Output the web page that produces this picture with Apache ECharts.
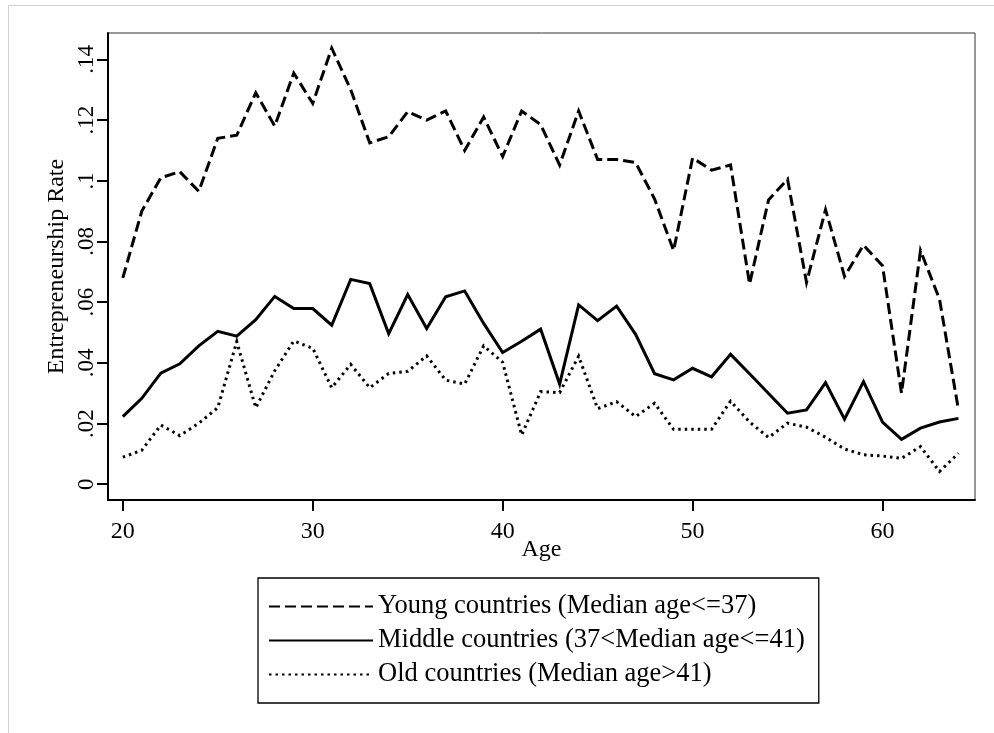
<!DOCTYPE html>
<html>
<head>
<meta charset="utf-8">
<title>Entrepreneurship Rate by Age</title>
<script src="https://cdn.jsdelivr.net/npm/echarts@6.0.0/dist/echarts.min.js"></script>
<style>
  html, body { margin: 0; padding: 0; background: #fff; }
  #chart { width: 994px; height: 733px; }
</style>
</head>
<body>
<div id="chart"></div>
<script>
// Ages covered by the survey
const ages = [20, 21, 22, 23, 24, 25, 26, 27, 28, 29, 30, 31, 32, 33, 34, 35, 36, 37, 38, 39,
              40, 41, 42, 43, 44, 45, 46, 47, 48, 49, 50, 51, 52, 53, 54, 55, 56, 57, 58, 59,
              60, 61, 62, 63, 64];

// Entrepreneurship rate by age, per country group
const youngRate = [0.068, 0.090, 0.101, 0.103, 0.0965, 0.114, 0.115, 0.129, 0.118, 0.1355,
                   0.1255, 0.1437, 0.130, 0.1125, 0.1145, 0.1228, 0.120, 0.123, 0.110, 0.121,
                   0.108, 0.123, 0.1185, 0.1052, 0.123, 0.107, 0.107, 0.106, 0.094, 0.077,
                   0.1075, 0.1035, 0.1052, 0.066, 0.0937, 0.1005, 0.0665, 0.0905, 0.0685, 0.0788,
                   0.072, 0.030, 0.077, 0.061, 0.0245];
const middleRate = [0.0223, 0.0283, 0.0366, 0.0397, 0.0456, 0.0504, 0.0488, 0.0542, 0.0619, 0.0579,
                    0.0579, 0.0524, 0.0675, 0.0661, 0.0496, 0.0625, 0.0513, 0.0618, 0.0637, 0.0530,
                    0.0434, 0.0471, 0.0511, 0.0330, 0.0591, 0.0539, 0.0587, 0.0494, 0.0364, 0.0344,
                    0.0382, 0.0354, 0.0428, 0.0364, 0.0299, 0.0234, 0.0245, 0.0335, 0.0214, 0.0338,
                    0.0205, 0.0148, 0.0185, 0.0205, 0.0217];
const oldRate = [0.0089, 0.0112, 0.0195, 0.0160, 0.0201, 0.0252, 0.0470, 0.0252, 0.0374, 0.0472,
                 0.0448, 0.0318, 0.0395, 0.0318, 0.0365, 0.0372, 0.0423, 0.0343, 0.0330, 0.0456,
                 0.0402, 0.0162, 0.0305, 0.0302, 0.0422, 0.0249, 0.0272, 0.0223, 0.0267, 0.0181,
                 0.0181, 0.0181, 0.0274, 0.0205, 0.0154, 0.0201, 0.0188, 0.0155, 0.0116, 0.0097,
                 0.0093, 0.0085, 0.0124, 0.0042, 0.0102];

// Series names
const seriesNames = [
  'Young countries (Median age<=37)',
  'Middle countries (37<Median age<=41)',
  'Old countries (Median age>41)'
];

// Axis ticks and their labels
const xTicks = [20, 30, 40, 50, 60];
const yTicks = [0, 0.02, 0.04, 0.06, 0.08, 0.10, 0.12, 0.14];
const yTickLabels = ['0', '.02', '.04', '.06', '.08', '.1', '.12', '.14'];

const serif = "'Liberation Serif', 'Times New Roman', serif";

function pairs(values) {
  return ages.map((a, i) => [a, values[i]]);
}

function yLabel(v) {
  for (let i = 0; i < yTicks.length; i++) {
    if (Math.abs(yTicks[i] - v) < 1e-9) return yTickLabels[i];
  }
  return '';
}

const chart = echarts.init(document.getElementById('chart'), null, { renderer: 'canvas' });

const option = {
  animation: false,
  backgroundColor: '#fff',
  graphic: [{
    type: 'rect',
    silent: true,
    shape: { x: 8.5, y: 5.5, width: 1200, height: 1200 },
    style: { fill: 'none', stroke: '#cfcfcf', lineWidth: 1 }
  }],
  grid: {
    left: 108, top: 33, right: 19, bottom: 233,
    show: true,
    borderColor: '#333',
    borderWidth: 1,
    backgroundColor: '#fff'
  },
  xAxis: {
    type: 'value',
    min: 19.22,
    max: 64.87,
    name: 'Age',
    nameLocation: 'middle',
    nameGap: 38,
    nameMoveOverlap: false,
    nameTextStyle: { fontFamily: serif, fontSize: 24, color: '#000' },
    axisLine: { show: true, onZero: false, lineStyle: { color: '#000', width: 2 } },
    axisTick: { show: true, length: 11, lineStyle: { color: '#000', width: 2 }, customValues: xTicks },
    axisLabel: {
      customValues: xTicks,
      fontFamily: serif, fontSize: 24, color: '#000', margin: 20
    },
    splitLine: { show: false }
  },
  yAxis: {
    type: 'value',
    min: -0.0052,
    max: 0.1487,
    name: 'Entrepreneurship Rate',
    nameLocation: 'middle',
    nameGap: 39,
    nameMoveOverlap: false,
    nameTextStyle: { fontFamily: serif, fontSize: 24, color: '#000' },
    axisLine: { show: true, onZero: false, lineStyle: { color: '#000', width: 2 } },
    axisTick: { show: true, length: 11, lineStyle: { color: '#000', width: 2 }, customValues: yTicks },
    axisLabel: {
      customValues: yTicks,
      rotate: 90,
      formatter: yLabel,
      fontFamily: serif, fontSize: 23, color: '#000', margin: 10
    },
    splitLine: { show: false }
  },
  legend: {
    orient: 'vertical',
    left: 258,
    top: 578,
    itemWidth: 104,
    itemHeight: 14,
    itemGap: 7,
    itemTextGap: 17,
    padding: [15, 14, 15, 10],
    borderColor: '#000',
    borderWidth: 1.3,
    backgroundColor: '#fff',
    itemStyle: { opacity: 0 },
    textStyle: { fontFamily: serif, fontSize: 26.5, color: '#000' },
    data: seriesNames
  },
  series: [
    {
      name: seriesNames[0],
      type: 'line',
      data: pairs(youngRate),
      symbol: 'none',
      lineStyle: { color: '#000', width: 3, type: [11, 5], join: 'miter' },
      itemStyle: { color: '#000' },
      z: 3
    },
    {
      name: seriesNames[1],
      type: 'line',
      data: pairs(middleRate),
      symbol: 'none',
      lineStyle: { color: '#000', width: 3, type: 'solid', join: 'miter' },
      itemStyle: { color: '#000' },
      z: 2
    },
    {
      name: seriesNames[2],
      type: 'line',
      data: pairs(oldRate),
      symbol: 'none',
      lineStyle: { color: '#000', width: 3, type: [2.5, 4], join: 'miter' },
      itemStyle: { color: '#000' },
      z: 1
    }
  ]
};

chart.setOption(option);
</script>
</body>
</html>
